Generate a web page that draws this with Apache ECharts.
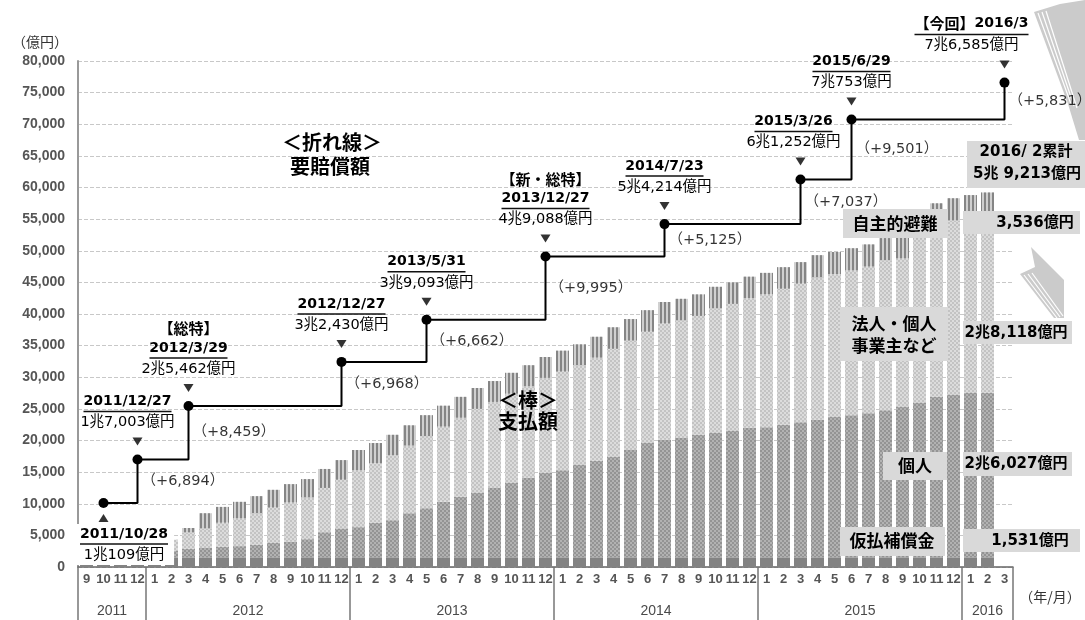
<!DOCTYPE html>
<html><head><meta charset="utf-8">
<script src="https://cdn.jsdelivr.net/npm/echarts@6/dist/echarts.min.js"></script>
<style>html,body{margin:0;padding:0;background:#fff}#c{width:1085px;height:620px}</style>
</head><body><div id="c"></div>
<script>
// ---------- DATA ----------
const categories = [
 '2011/9','2011/10','2011/11','2011/12',
 '2012/1','2012/2','2012/3','2012/4','2012/5','2012/6','2012/7','2012/8','2012/9','2012/10','2012/11','2012/12',
 '2013/1','2013/2','2013/3','2013/4','2013/5','2013/6','2013/7','2013/8','2013/9','2013/10','2013/11','2013/12',
 '2014/1','2014/2','2014/3','2014/4','2014/5','2014/6','2014/7','2014/8','2014/9','2014/10','2014/11','2014/12',
 '2015/1','2015/2','2015/3','2015/4','2015/5','2015/6','2015/7','2015/8','2015/9','2015/10','2015/11','2015/12',
 '2016/1','2016/2','2016/3'];

// 支払額 (億円) stacked
const karibarai = [1450,1470,1490,1500,
 1510,1520,1520,1520,1530,1530,1530,1530,1530,1530,1530,1530,
 1530,1530,1530,1530,1530,1530,1530,1530,1530,1530,1530,1530,
 1530,1530,1530,1530,1530,1530,1530,1530,1530,1530,1530,1530,
 1530,1530,1530,1530,1530,1530,1530,1530,1530,1530,1530,1530,
 1530,1531,null];
const kojin = [50,150,350,650,
 900,1100,1350,1480,1670,1770,1970,2270,2470,2870,3970,4570,
 4770,5470,5870,6970,7770,8770,9570,10170,10970,11770,12570,13370,
 13770,14670,15270,15870,16970,18070,18570,18870,19370,19670,20070,20470,
 20570,20970,21370,21770,22170,22470,22770,23270,23770,24470,25370,25670,
 25970,26027,null];
const hojin = [0,200,500,900,
 1300,1700,2600,3100,3800,4400,5000,5600,6200,6600,7000,7700,
 9000,9400,10300,10700,11400,11900,12500,13300,13600,14100,14500,15000,
 15600,15700,16300,17100,17300,17600,18400,18600,18800,19700,20000,20500,
 21000,21500,21900,22500,22600,22900,23200,23700,23500,26000,27100,27590,
 27780,28118,null];
const jishu = [0,0,0,0,
 0,0,700,2400,2500,2600,2700,2800,2900,2900,3000,3100,
 3200,3200,3200,3200,3300,3300,3300,3300,3300,3300,3300,3300,
 3300,3300,3300,3400,3400,3400,3400,3400,3400,3400,3400,3400,
 3400,3400,3400,3500,3500,3500,3500,3500,3500,3500,3500,3510,
 3520,3536,null];

// 要賠償額 (step line)
const lineCats = ['2011/10','2011/12','2012/3','2012/12','2013/5','2013/12','2014/7','2015/3','2015/6','2016/3'];
const lineValues = [10109,17003,25462,32430,39093,49088,54214,61252,70753,76585];
const lineDates = ['2011/10/28','2011/12/27','2012/3/29','2012/12/27','2013/5/31','2013/12/27','2014/7/23','2015/3/26','2015/6/29','2016/3'];
const lineAmounts = ['1兆109億円','1兆7,003億円','2兆5,462億円','3兆2,430億円','3兆9,093億円','4兆9,088億円','5兆4,214億円','6兆1,252億円','7兆753億円','7兆6,585億円'];
const lineNotes = ['','','【総特】','','','【新・総特】','','','','【今回】'];
const increments = [null,6894,8459,6968,6662,9995,5125,7037,9501,5831];

const yTicks = {min:0, max:80000, interval:5000};

// ---------- helpers ----------
const cv = document.createElement('canvas').getContext('2d');
function tw(text, font){ cv.font = font; return cv.measureText(text).width; }
const JP = '"Noto Sans CJK JP"';
const DATEFONT = '"DejaVu Sans", "Noto Sans CJK JP"';
const fmt = n => n.toLocaleString('en-US');

const yearOf = c => c.split('/')[0];
const monthOf = c => c.split('/')[1];
const yearInfo = {};
categories.forEach((c,i)=>{ const y=yearOf(c); if(!yearInfo[y]) yearInfo[y]={s:i,e:i}; yearInfo[y].e=i; });
const yearLabelAt = {};
Object.keys(yearInfo).forEach(y=>{ const {s,e}=yearInfo[y]; const cnt=e-s+1; const idx=s+Math.floor((cnt-1)/2); yearLabelAt[idx]={y, shift: cnt%2===0}; });

const labelOffsets = {0:[22,0],1:[-10,0],7:[-7,0],9:[-33,0]};
const rich = {
  n:{fontFamily:JP,fontWeight:'bold',fontSize:15,lineHeight:21,color:'#000'},
  d:{fontFamily:DATEFONT,fontWeight:'bold',fontSize:14,lineHeight:18,color:'#000'},
  a:{fontFamily:DATEFONT,fontSize:14.5,lineHeight:20,color:'#000'}
};
const lastI = lineCats.length-1;
const lineData = lineCats.map((c,i)=>{
  const inline = lineNotes[i] && i===lastI;
  const w = inline ? tw(lineNotes[i],'bold 15px '+JP)+tw(lineDates[i],'bold 14px '+DATEFONT) : tw(lineDates[i],'bold 14px '+DATEFONT);
  rich['u'+i] = {width:Math.round(w), height:1.5, lineHeight:2, backgroundColor:'#111', fontSize:1};
  const headTxt = inline ? '{n|'+lineNotes[i]+'}{d|'+lineDates[i]+'}' : '{d|'+lineDates[i]+'}';
  const txt = (lineNotes[i] && !inline ? '{n|'+lineNotes[i]+'}\n' : '') + headTxt + '\n{u'+i+'| }\n{a|'+lineAmounts[i]+'}';
  const lab = {show:true, formatter:txt, rich, align:'center', offset:labelOffsets[i]||[0,0]};
  if(i===0){ lab.position='bottom'; lab.distance=16; lab.backgroundColor='#fff'; lab.padding=[1,6,0,3]; }
  else { lab.position='top'; lab.distance=22; }
  return {value:[c, lineValues[i]], label:lab};
});
const triData = lineCats.map((c,i)=>({value:[c,lineValues[i]], symbolRotate: i===0?0:180, symbolOffset: i===0?[0,15]:[0,-18]}));
const incData = lineCats.map((c,i)=> i===0?null:{value:[c,(lineValues[i]+lineValues[i-1])/2], label:{formatter:'（+'+fmt(increments[i])+'）'}}).filter(Boolean);

// ---------- chart ----------
const chart = echarts.init(document.getElementById('c'), null, {renderer:'canvas'});
const barBase = {type:'bar', stack:'pay', barWidth:13, silent:true, xAxisIndex:0, yAxisIndex:0};
const arrowFill = '#cbcbcb';
const stripe = (x1,y1,x2,y2)=>({type:'line', shape:{x1,y1,x2,y2}, style:{stroke:'#fff', lineWidth:1.2}, z:2});
const option = {
  animation:false,
  backgroundColor:'#fff',
  grid:{left:78, right:72, top:61, bottom:53},
  xAxis:[{
    type:'category', data:categories, boundaryGap:true,
    axisLine:{lineStyle:{color:'#666', width:1.5}},
    axisTick:{show:true, length:53, interval:(i)=> i===0 || i>=categories.length || monthOf(categories[i])==='1', lineStyle:{color:'#777', width:1.5}},
    axisLabel:{interval:0, formatter:v=>monthOf(v), color:'#555', fontFamily:'"Liberation Sans"', fontWeight:'bold', fontSize:13, margin:6},
    splitLine:{show:false}
  },{
    type:'category', data:categories, position:'bottom', gridIndex:0,
    axisLine:{show:false}, axisTick:{show:false}, splitLine:{show:false},
    axisLabel:{interval:0, margin:37, color:'#4a4a4a', fontFamily:'"Liberation Sans"', fontSize:14,
      formatter:(v,i)=>{ const L=yearLabelAt[i]; if(!L) return ''; return L.shift? '{s|'+L.y+'}' : L.y; },
      rich:{s:{padding:[0,0,0,17], color:'#4a4a4a', fontFamily:'"Liberation Sans"', fontSize:14}}}
  }],
  yAxis:{
    type:'value', min:yTicks.min, max:yTicks.max, interval:yTicks.interval,
    axisLine:{show:true, lineStyle:{color:'#999', width:2}},
    axisTick:{show:false},
    splitLine:{lineStyle:{type:'dashed', color:'#c8c8c8'}},
    axisLabel:{formatter:v=>fmt(v), color:'#555', fontFamily:'"Liberation Sans"', fontWeight:'bold', fontSize:14, margin:13},
    name:'（億円）', nameLocation:'end', nameGap:12,
    nameTextStyle:{align:'right', padding:[0,10,0,0], color:'#333', fontFamily:JP, fontSize:14}
  },
  series:[
    Object.assign({}, barBase, {name:'仮払補償金', data:karibarai, itemStyle:{color:'#838383'}}),
    Object.assign({}, barBase, {name:'個人', data:kojin, itemStyle:{color:'#b2b2b2', decal:{symbol:'rect', symbolSize:1, color:'rgba(100,100,100,0.38)', dashArrayX:[[2,2],[0,2,2,0]], dashArrayY:[2,0], rotation:0}}}),
    Object.assign({}, barBase, {name:'法人・個人事業主など', data:hojin, itemStyle:{color:'#dcdcdc', decal:{symbol:'rect', symbolSize:1, color:'rgba(170,170,170,0.5)', dashArrayX:[[2,2],[0,2,2,0]], dashArrayY:[2,0], rotation:0}}}),
    Object.assign({}, barBase, {name:'自主的避難', data:jishu, itemStyle:{color:'#d0d0d0', decal:{symbol:'rect', symbolSize:1, color:'#858585', dashArrayX:[2,2], dashArrayY:[1,0], rotation:0}}}),
    {type:'line', name:'要賠償額', data:lineData, step:'end', symbol:'circle', symbolSize:10, silent:true, z:5,
     itemStyle:{color:'#000'}, lineStyle:{color:'#000', width:2}},
    {type:'scatter', name:'marker', data:triData, symbol:'triangle', symbolSize:[10,8], silent:true, z:5, itemStyle:{color:'#000'}},
    {type:'scatter', name:'inc', data:incData, symbolSize:0, silent:true, z:5,
     label:{show:true, position:'right', distance:4, color:'#000', fontFamily:DATEFONT, fontSize:14.5}}
  ],
  graphic:[
    // decorative arrows
    {type:'polygon', shape:{points:[[1034,12],[1060,4],[1085,0],[1085,140],[1079,140],[1068,104]]}, style:{fill:arrowFill}, z:1},
    stripe(1038,13,1071,104), stripe(1042,12,1074,106), stripe(1046,11,1077,108),
    {type:'polygon', shape:{points:[[1031,247],[1064,280],[1064,318],[1054,318],[1020,274],[1035,267]]}, style:{fill:arrowFill}, z:1},
    stripe(1024,275,1057,318), stripe(1028,274,1060,317), stripe(1032,273,1063,316),
    // titles
    {type:'text', left:282, top:132, style:{text:'＜折れ線＞', font:'bold 20px '+JP, fill:'#000'}},
    {type:'text', left:290, top:156, style:{text:'要賠償額', font:'bold 20px '+JP, fill:'#000'}},
    {type:'text', left:498, top:390, style:{text:'＜棒＞', font:'bold 20px '+JP, fill:'#000'}, z:10},
    {type:'text', left:498, top:411, style:{text:'支払額', font:'bold 20px '+JP, fill:'#000'}, z:10},
    // legend-like boxes
    {type:'rect', shape:{x:967,y:141,width:118,height:47}, style:{fill:'#d9d9d9'}, z:10},
    {type:'text', x:1026, y:152, style:{text:'2016/ 2累計', font:'bold 15px '+DATEFONT, fill:'#000', align:'center', verticalAlign:'middle'}, z:11},
    {type:'text', x:1027, y:174, style:{text:'5兆 9,213億円', font:'bold 15px '+DATEFONT, fill:'#000', align:'center', verticalAlign:'middle'}, z:11},
    {type:'rect', shape:{x:843,y:209,width:105,height:29}, style:{fill:'#d9d9d9'}, z:10},
    {type:'text', x:895, y:224, style:{text:'自主的避難', font:'bold 17px '+JP, fill:'#000', align:'center', verticalAlign:'middle'}, z:11},
    {type:'rect', shape:{x:963,y:211,width:117,height:23}, style:{fill:'#d9d9d9'}, z:10},
    {type:'text', x:1035, y:223, style:{text:'3,536億円', font:'bold 15px '+DATEFONT, fill:'#000', align:'center', verticalAlign:'middle'}, z:11},
    {type:'rect', shape:{x:840,y:307,width:108,height:54}, style:{fill:'#d9d9d9'}, z:10},
    {type:'text', x:894, y:324, style:{text:'法人・個人', font:'bold 17px '+JP, fill:'#000', align:'center', verticalAlign:'middle'}, z:11},
    {type:'text', x:894, y:346, style:{text:'事業主など', font:'bold 17px '+JP, fill:'#000', align:'center', verticalAlign:'middle'}, z:11},
    {type:'rect', shape:{x:963,y:321,width:109,height:23}, style:{fill:'#d9d9d9'}, z:10},
    {type:'text', x:1016, y:333, style:{text:'2兆8,118億円', font:'bold 15px '+DATEFONT, fill:'#000', align:'center', verticalAlign:'middle'}, z:11},
    {type:'rect', shape:{x:883,y:452,width:64,height:28}, style:{fill:'#d9d9d9'}, z:10},
    {type:'text', x:915, y:466, style:{text:'個人', font:'bold 17px '+JP, fill:'#000', align:'center', verticalAlign:'middle'}, z:11},
    {type:'rect', shape:{x:963,y:452,width:109,height:24}, style:{fill:'#d9d9d9'}, z:10},
    {type:'text', x:1016, y:464, style:{text:'2兆6,027億円', font:'bold 15px '+DATEFONT, fill:'#000', align:'center', verticalAlign:'middle'}, z:11},
    {type:'rect', shape:{x:840,y:527,width:105,height:29}, style:{fill:'#d9d9d9'}, z:10},
    {type:'text', x:892, y:541, style:{text:'仮払補償金', font:'bold 17px '+JP, fill:'#000', align:'center', verticalAlign:'middle'}, z:11},
    {type:'rect', shape:{x:963,y:529,width:117,height:23}, style:{fill:'#d9d9d9'}, z:10},
    {type:'text', x:1030, y:541, style:{text:'1,531億円', font:'bold 15px '+DATEFONT, fill:'#000', align:'center', verticalAlign:'middle'}, z:11},
    {type:'text', x:1050, y:597, style:{text:'（年/月）', font:'14px '+JP, fill:'#333', align:'center', verticalAlign:'middle'}}
  ]
};
chart.setOption(option);
</script>
</body></html>
